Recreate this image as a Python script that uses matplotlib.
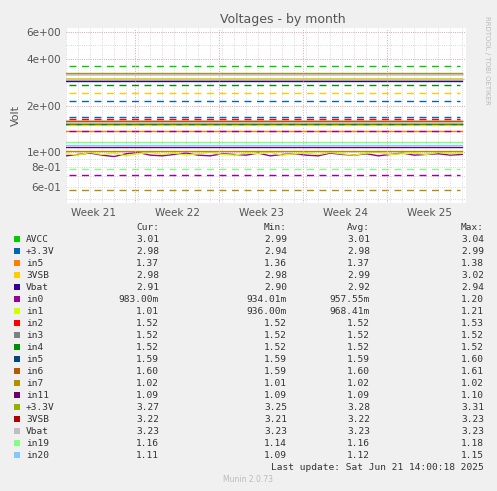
import matplotlib
matplotlib.use("Agg")
import matplotlib.pyplot as plt
import numpy as np

names = ["AVCC","+3.3V","in5","3VSB","Vbat","in0","in1","in2","in3","in4","in5","in6","in7","in11","+3.3V","3VSB","Vbat","in19","in20"]
colors = ["#00cc00","#0066b3","#ff8000","#ffcc00","#330099","#990099","#ccff00","#ff0000","#808080","#008f00","#00487d","#b35a00","#b38f00","#6b006b","#8fb300","#b30000","#bebebe","#80ff80","#80c9ff"]
cur = ["3.01","2.98","1.37","2.98","2.91","983.00m","1.01","1.52","1.52","1.52","1.59","1.60","1.02","1.09","3.27","3.22","3.23","1.16","1.11"]
mn  = ["2.99","2.94","1.36","2.98","2.90","934.01m","936.00m","1.52","1.52","1.52","1.59","1.59","1.01","1.09","3.25","3.21","3.23","1.14","1.09"]
avg = ["3.01","2.98","1.37","2.99","2.92","957.55m","968.41m","1.52","1.52","1.52","1.59","1.60","1.02","1.09","3.28","3.22","3.23","1.16","1.12"]
mx  = ["3.04","2.99","1.38","3.02","2.94","1.20","1.21","1.53","1.52","1.52","1.60","1.61","1.02","1.10","3.31","3.23","3.23","1.18","1.15"]
levels = [3.01,2.98,1.37,2.98,2.91,0.965,0.975,1.52,1.52,1.52,1.59,1.60,1.02,1.09,3.27,3.22,3.23,1.16,1.11]
# dashed threshold lines (value, colour index)
thr_vals = [3.62,2.72,2.44,2.14,1.69,1.64,1.51,1.38,0.785,0.71,0.574]
thr_cols = [0,9,3,1,1,7,3,5,17,5,12]
wiggle_in0 = [0.95,0.97,0.99,0.96,0.94,0.98,1.0,0.96,0.95,0.97,0.99,0.96,0.95,0.98,0.97,0.96,0.99,0.95,0.97,0.98,0.96,0.95,0.99,0.97,0.96,0.98,0.95,0.97,0.99,0.96,0.97,0.98,0.96,0.97]
wiggle_in1 = [0.98,0.96,1.0,0.97,0.99,0.95,0.98,1.0,0.97,0.99,0.96,0.98,1.0,0.97,0.96,0.99,0.98,1.0,0.96,0.98,0.99,0.97,1.0,0.98,0.96,0.99,1.0,0.97,0.98,0.99,0.97,1.0,0.98,0.99]
weeks = ["Week 21","Week 22","Week 23","Week 24","Week 25"]

W,H = 497,491
fig = plt.figure(figsize=(W/100,H/100),dpi=100,facecolor="#f0f0f0")
ax = fig.add_axes([66/W,1-203/H,400/W,175/H])
ax.set_facecolor("white")
days = np.arange(34)
for i,(v,c) in enumerate(zip(levels,colors)):
    if i==5: y=wiggle_in0
    elif i==6: y=wiggle_in1
    else: y=[v]*34
    ax.plot(days,y,color=c,lw=1)
for v,ci in zip(thr_vals,thr_cols):
    ax.axhline(v,xmin=0.007,xmax=0.985,color=colors[ci],lw=1,ls=(0,(5,4)))
ax.set_yscale("log")
ax.set_ylim(0.47,6.4)
ax.set_xlim(0,33.3)
ax.set_yticks([0.6,0.8,1,2,4,6])
ax.set_yticklabels(["6e-01","8e-01","1e+00","2e+00","4e+00","6e+00"])
ax.set_yticks([0.5,0.7,0.9,3,5],minor=True)
ax.yaxis.set_minor_formatter(matplotlib.ticker.NullFormatter())
wk = [2.25+7*i for i in range(5)]
ax.set_xticks(wk); ax.set_xticklabels(weeks)
ax.set_xticks(np.arange(0,34,1),minor=True)
ax.tick_params(labelsize=7.5,colors="#555555",length=0,which="both")
ax.grid(which="minor",color="#cccccc",ls=":",lw=0.6)
ax.grid(which="major",axis="y",color="#cccccc",ls=":",lw=0.6)
for d in [5.75+7*i for i in range(4)]:
    ax.axvline(d,color="#e8a0a0",ls=":",lw=0.7)
for y in [1,2,4,6]:
    ax.axhline(y,color="#e8a0a0",ls=":",lw=0.6)
for s in ax.spines.values(): s.set_visible(False)
ax.set_ylabel("Volt",fontsize=8,color="#555555")
fig.text(283/W,1-19/H,"Voltages - by month",ha="center",va="center",fontsize=9,color="#555555")
fig.text(487/W,1-60/H,"RRDTOOL / TOBI OETIKER",rotation=270,ha="center",va="center",fontsize=5,color="#bbbbbb")
mono = dict(family="DejaVu Sans Mono",fontsize=6.8,color="#333333",va="center")
def ty(y): return 1-y/H
for x,t in [(159,"Cur:"),(287,"Min:"),(370,"Avg:"),(484,"Max:")]:
    fig.text(x/W,ty(227),t,ha="right",**mono)
for i in range(len(names)):
    y = 239+12*i
    fig.patches.append(matplotlib.patches.Rectangle((14/W,ty(y+3)),6/W,6/H,transform=fig.transFigure,facecolor=colors[i],edgecolor="none"))
    fig.text(26/W,ty(y),names[i],ha="left",**mono)
    for x,arr in [(159,cur),(287,mn),(370,avg),(484,mx)]:
        fig.text(x/W,ty(y),arr[i],ha="right",**mono)
fig.text(484/W,ty(467),"Last update: Sat Jun 21 14:00:18 2025",ha="right",**mono)
fig.text(248/W,ty(480),"Munin 2.0.73",ha="center",va="center",fontsize=5.5,color="#bbbbbb")
fig.savefig("out.png",dpi=100,facecolor=fig.get_facecolor())
